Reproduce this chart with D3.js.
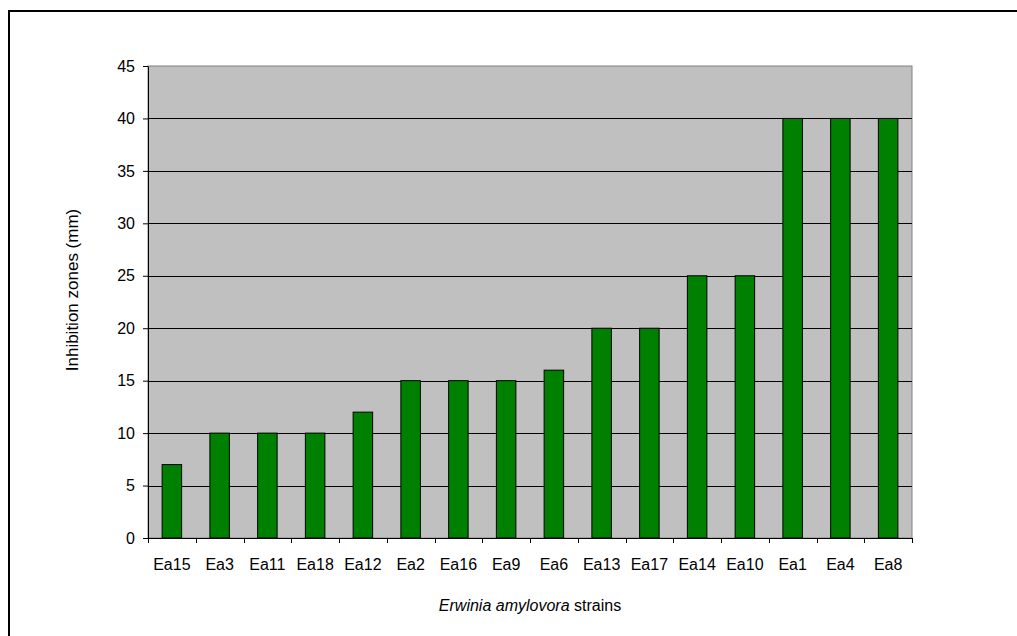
<!DOCTYPE html>
<html>
<head>
<meta charset="utf-8">
<script src="https://cdn.jsdelivr.net/npm/d3@7"></script>
<style>
  html, body { margin: 0; padding: 0; background: #ffffff; }
  svg { display: block; }
  text { font-family: "Liberation Sans", Arial, sans-serif; fill: #000; }
</style>
</head>
<body>
<svg id="chart" width="1017" height="636"></svg>
<script>
// Strains, ordered by increasing inhibition zone
const strains = ["Ea15", "Ea3", "Ea11", "Ea18", "Ea12", "Ea2", "Ea16", "Ea9",
                 "Ea6", "Ea13", "Ea17", "Ea14", "Ea10", "Ea1", "Ea4", "Ea8"];
// Inhibition zone diameters (mm)
const zones = [7, 10, 10, 10, 12, 15, 15, 15, 16, 20, 20, 25, 25, 40, 40, 40];
const yTicks = [0, 5, 10, 15, 20, 25, 30, 35, 40, 45];

const svg = d3.select("#chart");
const plot = { left: 148, top: 66, right: 912, bottom: 538 };

// Outer chart frame
svg.append("rect")
  .attr("x", 9).attr("y", 11)
  .attr("width", 1030).attr("height", 700)
  .attr("fill", "none").attr("stroke", "#000").attr("stroke-width", 2);

const x = d3.scaleBand().domain(strains).range([plot.left, plot.right]);
const y = d3.scaleLinear().domain([0, 45]).range([plot.bottom, plot.top]);

// Plot area background
svg.append("rect")
  .attr("x", plot.left).attr("y", plot.top)
  .attr("width", plot.right - plot.left).attr("height", plot.bottom - plot.top)
  .attr("fill", "#c0c0c0").attr("stroke", "#808080").attr("stroke-width", 1);

// Horizontal gridlines
svg.append("g").selectAll("line")
  .data(yTicks.filter(d => d > 0 && d < 45))
  .join("line")
  .attr("x1", plot.left).attr("x2", plot.right)
  .attr("y1", d => Math.round(y(d)) + 0.5).attr("y2", d => Math.round(y(d)) + 0.5)
  .attr("stroke", "#000").attr("stroke-width", 1);

// Bars
const barW = 19.5;
svg.append("g").selectAll("rect")
  .data(strains.map((s, i) => ({ s, v: zones[i] })))
  .join("rect")
  .attr("x", d => x(d.s) + x.bandwidth() / 2 - barW / 2)
  .attr("y", d => y(d.v))
  .attr("width", barW)
  .attr("height", d => y(0) - y(d.v))
  .attr("fill", "#008000")
  .attr("stroke", "#000").attr("stroke-width", 1);

// Y axis
const yAxis = svg.append("g")
  .attr("transform", `translate(${plot.left},0)`)
  .call(d3.axisLeft(y).tickValues(yTicks).tickSize(5).tickPadding(8).tickSizeOuter(0));
yAxis.selectAll("text").style("font-size", "16px").attr("fill", "#000");
yAxis.selectAll("line").attr("stroke", "#000");
yAxis.select(".domain").attr("stroke", "#000");

// X axis with ticks at category boundaries
const xAxisG = svg.append("g").attr("transform", `translate(0,${plot.bottom})`);
xAxisG.append("line")
  .attr("x1", plot.left).attr("x2", plot.right)
  .attr("y1", 0.5).attr("y2", 0.5).attr("stroke", "#000");
const boundaries = strains.map(s => x(s)).concat([plot.right]);
xAxisG.selectAll("line.tick")
  .data(boundaries)
  .join("line").attr("class", "tick")
  .attr("x1", d => Math.round(d) + 0.5).attr("x2", d => Math.round(d) + 0.5)
  .attr("y1", 0).attr("y2", 5).attr("stroke", "#000");
xAxisG.selectAll("text")
  .data(strains)
  .join("text")
  .attr("x", d => x(d) + x.bandwidth() / 2)
  .attr("y", 32)
  .attr("text-anchor", "middle")
  .style("font-size", "16px")
  .text(d => d);

// Axis titles
const xt = svg.append("text")
  .attr("x", (plot.left + plot.right) / 2).attr("y", 611)
  .attr("text-anchor", "middle").style("font-size", "16px");
xt.append("tspan").style("font-style", "italic").text("Erwinia amylovora");
xt.append("tspan").text(" strains");

svg.append("text")
  .attr("transform", `translate(78,${(plot.top + plot.bottom) / 2 - 12}) rotate(-90)`)
  .attr("text-anchor", "middle").style("font-size", "17px")
  .text("Inhibition zones (mm)");
</script>
</body>
</html>
